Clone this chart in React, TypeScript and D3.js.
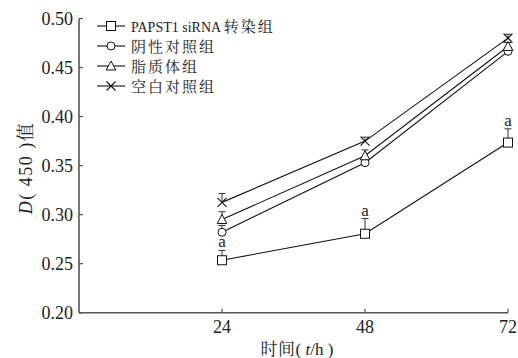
import React from "react";
import * as d3 from "d3";

const hours = [24, 48, 72];
const seriesLatin = ["PAPST1 siRNA ", "", "", ""];
const seriesCjk = ["转染组", "阴性对照组", "脂质体组", "空白对照组"];
const markers = ["square", "circle", "triangle", "cross"];
const papst1 = [0.2535, 0.2805, 0.3735];
const negative = [0.282, 0.353, 0.4665];
const liposome = [0.295, 0.36, 0.4715];
const blank = [0.3125, 0.375, 0.48];
const papst1Err = [0.010, 0.0155, 0.014];
const negativeErr = [0.007, 0.006, 0.004];
const liposomeErr = [0.008, 0.006, 0.004];
const blankErr = [0.009, 0.004, 0.004];
const sigLabels = ["a", "a", "a"];
const yTicks = [0.2, 0.25, 0.3, 0.35, 0.4, 0.45, 0.5];
const xTicks = [24, 48, 72];

const values = [papst1, negative, liposome, blank];
const errs = [papst1Err, negativeErr, liposomeErr, blankErr];

const W = 518, H = 358;
const x = d3.scaleLinear().domain([0, 72]).range([79, 508]);
const y = d3.scaleLinear().domain([0.2, 0.5]).range([312.7, 18.5]);

const serif = "'Liberation Serif', 'DejaVu Serif', serif";
const cjk = "'Liberation Serif', 'Noto Serif CJK SC', 'Noto Sans CJK SC', serif";

function Marker({ type, cx, cy }: { type: string; cx: number; cy: number }) {
  const s = 4.5;
  if (type === "square")
    return <rect x={cx - s} y={cy - s} width={2 * s} height={2 * s} fill="#fff" stroke="#111" strokeWidth={1} />;
  if (type === "circle") return <circle cx={cx} cy={cy} r={4} fill="#fff" stroke="#111" strokeWidth={1} />;
  if (type === "triangle")
    return (
      <path
        d={`M${cx},${cy - 5}L${cx + 4.8},${cy + 4}L${cx - 4.8},${cy + 4}Z`}
        fill="#fff"
        stroke="#111"
        strokeWidth={1}
      />
    );
  return (
    <path
      d={`M${cx - 4.5},${cy - 4.5}L${cx + 4.5},${cy + 4.5}M${cx - 4.5},${cy + 4.5}L${cx + 4.5},${cy - 4.5}`}
      stroke="#111"
      strokeWidth={1.1}
      fill="none"
    />
  );
}

export default function App() {
  const line = d3
    .line<number>()
    .x((_, i) => x(hours[i]))
    .y((d) => y(d));

  return (
    <svg width={W} height={H} style={{ position: "absolute", left: 0, top: 0, background: "#fff" }}>
      {/* axes */}
      <line x1={x(0)} x2={x(0)} y1={y(0.5)} y2={y(0.2)} stroke="#555" strokeWidth={1.6} />
      <line x1={x(0)} x2={x(72)} y1={y(0.2)} y2={y(0.2)} stroke="#555" strokeWidth={1.6} />
      {yTicks.map((t) => (
        <g key={t}>
          <line x1={x(0)} x2={x(0) + 4} y1={y(t)} y2={y(t)} stroke="#555" strokeWidth={1.2} />
          <text x={73} y={y(t) + 6} textAnchor="end" fontFamily={serif} fontSize={18} fill="#222">
            {t.toFixed(2)}
          </text>
        </g>
      ))}
      {xTicks.map((t) => (
        <g key={t}>
          <line x1={x(t)} x2={x(t)} y1={y(0.2)} y2={y(0.2) - 4} stroke="#555" strokeWidth={1.2} />
          <text x={x(t)} y={333} textAnchor="middle" fontFamily={serif} fontSize={18} fill="#222">
            {t}
          </text>
        </g>
      ))}
      {/* axis titles */}
      <text x={297} y={355} textAnchor="middle" fontFamily={cjk} fontSize={17} fill="#222">
        <tspan letterSpacing={0.5}>时间</tspan>
        <tspan>( </tspan>
        <tspan fontStyle="italic">t</tspan>
        <tspan>/h )</tspan>
      </text>
      <text
        transform="translate(32,168) rotate(-90)"
        textAnchor="middle"
        fontFamily={cjk}
        fontSize={18}
        fill="#222"
        letterSpacing={1.5}
      >
        <tspan fontStyle="italic">D</tspan>
        <tspan>( 450 )值</tspan>
      </text>

      {/* error bars */}
      {values.map((vals, si) =>
        vals.map((v, i) => {
          const cx = x(hours[i]);
          const top = y(v + errs[si][i]);
          return (
            <g key={`e${si}-${i}`}>
              <line x1={cx} x2={cx} y1={y(v)} y2={top} stroke="#333" strokeWidth={1} />
              <line x1={cx - 3.5} x2={cx + 3.5} y1={top} y2={top} stroke="#333" strokeWidth={1} />
            </g>
          );
        })
      )}

      {/* lines */}
      {values.map((vals, si) => (
        <path key={`l${si}`} d={line(vals) || ""} fill="none" stroke="#111" strokeWidth={1.1} />
      ))}
      {values.map((vals, si) =>
        vals.map((v, i) => <Marker key={`m${si}-${i}`} type={markers[si]} cx={x(hours[i])} cy={y(v)} />)
      )}

      {/* significance labels */}
      {papst1.map((v, i) => (
        <text
          key={`a${i}`}
          x={x(hours[i])}
          y={y(v + papst1Err[i]) - 3}
          textAnchor="middle"
          fontFamily={serif}
          fontSize={17}
          fill="#222"
        >
          {sigLabels[i]}
        </text>
      ))}

      {/* legend */}
      {seriesCjk.map((name, i) => {
        const ly = 26 + i * 20;
        return (
          <g key={name}>
            <line x1={97} x2={125} y1={ly} y2={ly} stroke="#111" strokeWidth={1.1} />
            <Marker type={markers[i]} cx={111} cy={ly} />
            <text x={131} y={ly + 5.5} fontFamily={cjk} fill="#222">
              {seriesLatin[i] ? (
                <tspan fontSize={14}>{seriesLatin[i]}</tspan>
              ) : null}
              <tspan fontSize={15} letterSpacing={2}>
                {name}
              </tspan>
            </text>
          </g>
        );
      })}
    </svg>
  );
}
